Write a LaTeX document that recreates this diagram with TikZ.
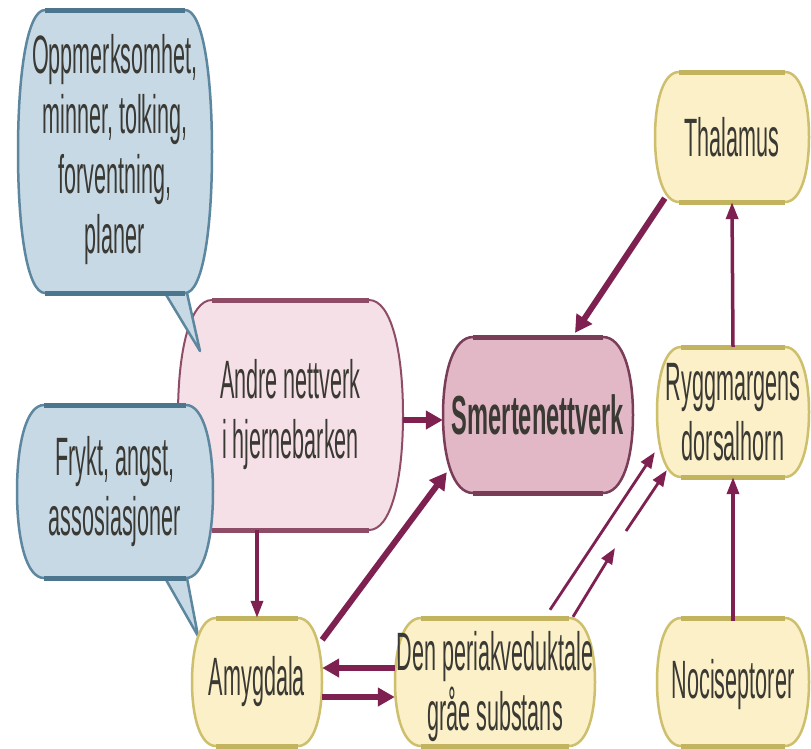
\documentclass[tikz,border=0pt]{standalone}
\usepackage{fontspec}
\setmainfont{Liberation Sans}[FakeStretch=0.40]
\newfontfamily\smfont{Liberation Sans Bold}[FakeStretch=0.43]
\usetikzlibrary{arrows.meta,calc}
\definecolor{yfill}{HTML}{FBF0C8}
\definecolor{yline}{HTML}{CDBF6C}
\definecolor{yband}{HTML}{C2B45E}
\definecolor{pfill}{HTML}{F6E0E7}
\definecolor{pline}{HTML}{8E4C66}
\definecolor{sfill}{HTML}{E2B8C7}
\definecolor{sline}{HTML}{7A3D58}
\definecolor{bfill}{HTML}{C8D9E6}
\definecolor{bline}{HTML}{5C879F}
\definecolor{bband}{HTML}{4B768E}
\definecolor{arr}{HTML}{7E2150}
\definecolor{tcol}{HTML}{3A3933}
% barrel shape: style, x1, y1, x2, y2, r
\newcommand\barrelshape[6]{%
  \pgfmathsetmacro\bym{(#3+#5)/2}%
  \pgfmathsetmacro\byq{0.22*(#5-#3)}%
  \path[#1] ({#2+#6},#3) -- ({#4-#6},#3)
    .. controls ({#4-0.35*#6},#3) and (#4,{#3+\byq}) .. (#4,\bym)
    .. controls (#4,{#5-\byq}) and ({#4-0.35*#6},#5) .. ({#4-#6},#5)
    -- ({#2+#6},#5)
    .. controls ({#2+0.35*#6},#5) and (#2,{#5-\byq}) .. (#2,\bym)
    .. controls (#2,{#3+\byq}) and ({#2+0.35*#6},#3) .. ({#2+#6},#3) -- cycle;}
% callout shape: style, x1, y1, x2, y2, r, tail right x, tail left x, tip
\newcommand\calloutshape[9]{%
  \pgfmathsetmacro\bym{(#3+#5)/2}%
  \pgfmathsetmacro\byq{0.22*(#5-#3)}%
  \path[#1] ({#2+#6},#3) -- ({#4-#6},#3)
    .. controls ({#4-0.35*#6},#3) and (#4,{#3+\byq}) .. (#4,\bym)
    .. controls (#4,{#5-\byq}) and ({#4-0.35*#6},#5) .. ({#4-#6},#5)
    -- (#7,#5) -- (#9) -- (#8,#5)
    -- ({#2+#6},#5)
    .. controls ({#2+0.35*#6},#5) and (#2,{#5-\byq}) .. (#2,\bym)
    .. controls (#2,{#3+\byq}) and ({#2+0.35*#6},#3) .. ({#2+#6},#3) -- cycle;}
% thick top and bottom bands: colour, x1, y1, x2, y2, r
\newcommand\bands[6]{%
  \draw[#1, line width=5pt] ({#2+#6},#3) -- ({#4-#6},#3);
  \draw[#1, line width=5pt] ({#2+#6},#5) -- ({#4-#6},#5);}
\begin{document}
\begin{tikzpicture}[x=1pt,y=-1pt,
  txt/.style={inner sep=0pt, align=center, text=tcol,
              font=\fontsize{54}{60}\selectfont},
  ybox/.style={fill=yfill, draw=yline, line width=2.5pt},
  pbox/.style={fill=pfill, draw=pline, line width=2pt},
  sbox/.style={fill=sfill, draw=sline, line width=2.5pt},
  bbox/.style={fill=bfill, draw=bline, line width=2.5pt, line join=round},
  arrT/.style={draw=arr, line width=6pt, -{Triangle[width=18pt,length=17pt]}},
  arrS/.style={draw=arr, line width=3.5pt, -{Triangle[width=12pt,length=17pt]}},
  arrD/.style={draw=arr, line width=2.8pt, -{Triangle[width=12pt,length=16pt]}}
]
\useasboundingbox (0,0) rectangle (811,748);
\fill[white] (0,0) rectangle (811,748);

% pink cortex box (behind callouts)
\barrelshape{pbox}{178}{300}{403}{530}{34}
\bands{pline}{178}{300}{403}{530}{34}

% callouts
\calloutshape{bbox}{18}{10}{212}{293}{27}{187}{165}{200,351}
\bands{bband}{18}{10}{212}{293}{27}
\calloutshape{bbox}{17}{405}{213}{578}{27}{187}{165}{198,636}
\bands{bband}{17}{405}{213}{578}{27}

% other boxes
\barrelshape{sbox}{443}{337}{633}{493}{30}
\bands{sline}{443}{337}{633}{493}{30}
\barrelshape{ybox}{655}{72}{809}{202}{24}
\bands{yband}{655}{72}{809}{202}{24}
\barrelshape{ybox}{657}{347}{809}{477}{24}
\bands{yband}{657}{347}{809}{477}{24}
\barrelshape{ybox}{192}{618}{322}{746}{24}
\bands{yband}{192}{618}{322}{746}{24}
\barrelshape{ybox}{395}{618}{595}{746}{26}
\bands{yband}{395}{618}{595}{746}{26}
\barrelshape{ybox}{657}{618}{809}{746}{24}
\bands{yband}{657}{618}{809}{746}{24}

% text nodes (sized as the boxes)
\node[txt, minimum width=194, minimum height=283] (opp) at (115,150)
  {Oppmerksomhet,\\minner, tolking,\\forventning,\\planer};
\node[txt, minimum width=225, minimum height=230] (andre) at (290.5,415)
  {Andre nettverk\\i hjernebarken};
\node[txt, minimum width=196, minimum height=173] (frykt) at (115,491.5)
  {Frykt, angst,\\assosiasjoner};
\node[txt, minimum width=190, minimum height=156, font=\fontsize{55}{60}\smfont] (smerte) at (538,415)
  {Smertenettverk};
\node[txt, minimum width=154, minimum height=130] (thal) at (732,137) {Thalamus};
\node[txt, minimum width=152, minimum height=130] (rygg) at (733,412)
  {Ryggmargens\\dorsalhorn};
\node[txt, minimum width=130, minimum height=128] (amyg) at (257,682) {Amygdala};
\node[txt, minimum width=200, minimum height=128] (den) at (495,687)
  {Den periakveduktale\\gråe substans};
\node[txt, minimum width=152, minimum height=128] (noci) at (733,685) {Nociseptorer};

% connectors
\draw[arrT] ([yshift=-5pt]andre.east) -- ([yshift=-5pt]smerte.west);
\draw[arrS] (amyg.north |- andre.south) -- (amyg.north);
\draw[arrT] ($(amyg.north east)+(0,22)$) -- ($(smerte.south west)+(4,-21)$);
\draw[arrT] ($(den.west)+(0,-19)$) -- ($(amyg.east)+(0,-14)$);
\draw[arrT] ($(amyg.east)+(0,15)$) -- ($(den.west)+(0,10)$);
\draw[arrT] ($(thal.south west)+(10,-4)$) -- ($(smerte.north)+(37,-4)$);
\draw[arrS] (rygg.north) -- (thal.south);
\draw[arrS] (noci.north) -- (rygg.south);

% descending pathways from the periaqueductal grey to the dorsal horn
\coordinate (gapA) at (615,548);
\coordinate (gapB) at (626,531);
\draw[arrD] ($(den.north)+(55,-13)$) -- ($(rygg.south west)+(-2,-25)$);
\draw[arrD] ($(den.north)+(78,-6)$) -- (gapA);
\draw[arrD] (gapB) -- ($(rygg.south west)+(10,-7)$);
\end{tikzpicture}
\end{document}
